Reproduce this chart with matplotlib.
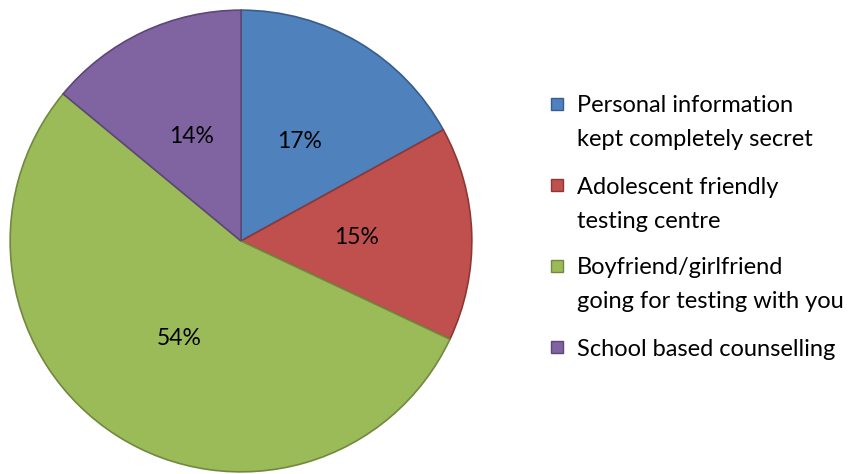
import matplotlib.pyplot as plt
from matplotlib.patches import Rectangle

plt.rcParams['font.family'] = ['Lato', 'DejaVu Sans']

labels = ['Personal information\nkept completely secret',
          'Adolescent friendly\ntesting centre',
          'Boyfriend/girlfriend\ngoing for testing with you',
          'School based counselling']
shares = [17, 15, 54, 14]
colors = ['#4F81BD', '#C0504D', '#9BBB59', '#8064A2']
edges = ['#385D8A', '#8C3836', '#71893F', '#5C4776']

W, H = 853, 474
fig = plt.figure(figsize=(W / 100, H / 100), dpi=100)
ax = fig.add_axes([9 / W, 1 / H, 464 / W, 464 / H])

wedges, texts, autotexts = ax.pie(
    shares, colors=colors, startangle=90, counterclock=False,
    autopct='%d%%', pctdistance=0.5, radius=1,
    wedgeprops=dict(linewidth=1.2),
    textprops=dict(fontsize=16.5, color='#000000'))
for w, ec in zip(wedges, edges):
    w.set_edgecolor(ec)
ax.set_xlim(-1.005, 1.005)
ax.set_ylim(-1.005, 1.005)
ax.set_aspect('equal')

# legend drawn by hand so each square sits beside the first line of its label
top, step, line_h = 104, 81, 34
for i, (lab, c, e) in enumerate(zip(labels, colors, edges)):
    y = top + i * step
    fig.patches.append(Rectangle((551 / W, 1 - (y + 6) / H), 12 / W, 12 / H,
                                 facecolor=c, edgecolor=e, linewidth=1,
                                 transform=fig.transFigure))
    for j, line in enumerate(lab.split('\n')):
        fig.text(577 / W, 1 - (y + j * line_h) / H, line, fontsize=17,
                 ha='left', va='center_baseline')

fig.savefig('out.png', dpi=100)
